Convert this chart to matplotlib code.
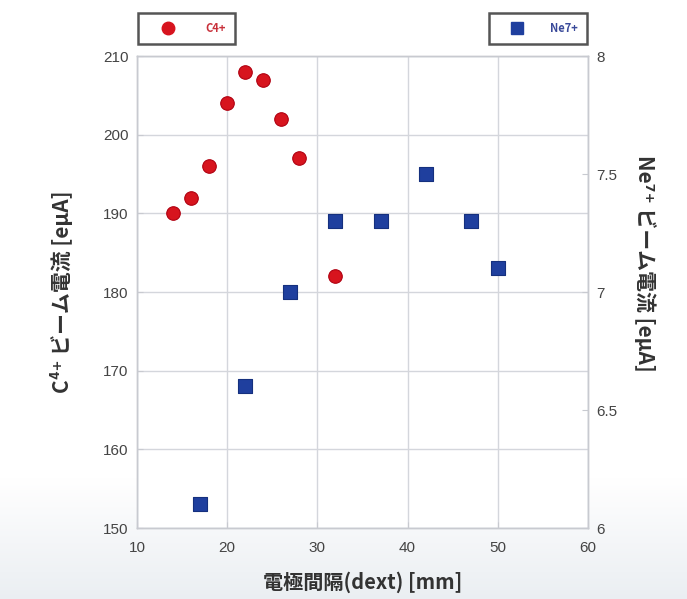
import matplotlib
matplotlib.use("Agg")
import matplotlib.pyplot as plt
import numpy as np
from matplotlib.lines import Line2D

plt.rcParams['font.family'] = ['Noto Sans CJK JP', 'DejaVu Sans']

# C4+ beam current [euA] vs electrode gap [mm]
c4_x = [14, 16, 18, 20, 22, 24, 26, 28, 32]
c4_y = [190, 192, 196, 204, 208, 207, 202, 197, 182]

# Ne7+ beam current [euA] vs electrode gap [mm]
ne7_x = [17, 22, 27, 32, 37, 42, 47, 50]
ne7_y = [6.1, 6.6, 7.0, 7.3, 7.3, 7.5, 7.3, 7.1]

x_ticks = [10, 20, 30, 40, 50, 60]
left_ticks = [150, 160, 170, 180, 190, 200, 210]
right_ticks = [6, 6.5, 7, 7.5, 8]
right_labels = ["6", "6.5", "7", "7.5", "8"]

red = '#d7141e'
blue = '#1f3f9e'
grid_c = '#d4d6dc'
tick_c = '#444444'

fig = plt.figure(figsize=(6.87, 5.99), dpi=100)

# faint grey-blue shading towards the bottom of the page
bg = fig.add_axes([0, 0, 1, 1], zorder=-10)
grad = np.clip((np.linspace(0, 1, 300) - 0.8) / 0.2, 0, 1)[:, None]
top_c = np.array([1.0, 1.0, 1.0])
bot_c = np.array([0.92, 0.935, 0.95])
img = top_c + (bot_c - top_c) * grad[..., None]
bg.imshow(np.repeat(img, 2, axis=1), aspect='auto', extent=[0, 1, 1, 0])
bg.set_axis_off()

ax = fig.add_axes([137 / 687, 1 - 528 / 599, (588 - 137) / 687, (528 - 56) / 599])
ax2 = ax.twinx()

ax.scatter(c4_x, c4_y, s=95, color=red, edgecolors='#b00010', linewidths=0.8, zorder=3)
ax2.scatter(ne7_x, ne7_y, s=95, marker='s', color=blue, edgecolors='#15307e',
            linewidths=0.8, zorder=3)

ax.set_xlim(10, 60)
ax.set_ylim(150, 210)
ax2.set_ylim(6, 8)
ax.set_xticks(x_ticks)
ax.set_yticks(left_ticks)
ax2.set_yticks(right_ticks)
ax2.set_yticklabels(right_labels)

ax.grid(True, color=grid_c, linewidth=1.0)
ax.set_axisbelow(True)

for a in (ax, ax2):
    for sp in a.spines.values():
        sp.set_color('#c8cad0')
        sp.set_linewidth(1.0)
    a.tick_params(direction='in', length=4, color='#c8cad0', labelsize=11,
                  labelcolor=tick_c, pad=6)
    for lab in a.get_xticklabels() + a.get_yticklabels():
        lab.set_family('Liberation Sans')
ax.tick_params(axis='x', pad=9)

ax.set_xlabel('電極間隔(dext) [mm]', fontsize=14.5, fontweight='bold', color='#333333',
              labelpad=12)
ax.set_ylabel('C⁴⁺ ビーム電流 [eμA]', fontsize=15, fontweight='bold',
              color='#333333', labelpad=22)
ax2.set_ylabel('Ne⁷⁺ ビーム電流 [eμA]', fontsize=15, fontweight='bold',
               color='#333333', rotation=270, labelpad=36)
ax2.yaxis.set_label_coords(1.15, 0.56)

h1 = Line2D([], [], marker='o', linestyle='none', markersize=9, color=red)
h2 = Line2D([], [], marker='s', linestyle='none', markersize=9, color=blue)
leg1 = fig.legend([h1], ['C4+'], loc='upper left', bbox_to_anchor=(138 / 687, 1 - 13 / 599),
                  fontsize=8, frameon=True, fancybox=False, edgecolor='#555555',
                  borderpad=0.8, handlelength=3.8, handletextpad=1.5, borderaxespad=0,
                  framealpha=1)
leg1.get_frame().set_linewidth(1.8)
leg1.get_texts()[0].set_color('#c8303a')
leg1.get_texts()[0].set_fontweight('bold')
leg2 = fig.legend([h2], ['Ne7+'], loc='upper right', bbox_to_anchor=(587 / 687, 1 - 13 / 599),
                  fontsize=8, frameon=True, fancybox=False, edgecolor='#555555',
                  borderpad=0.8, handlelength=3.4, handletextpad=1.3, borderaxespad=0,
                  framealpha=1)
leg2.get_frame().set_linewidth(1.8)
leg2.get_texts()[0].set_color('#3a4a9a')
leg2.get_texts()[0].set_fontweight('bold')

fig.savefig('out.png', dpi=100, facecolor='white')
